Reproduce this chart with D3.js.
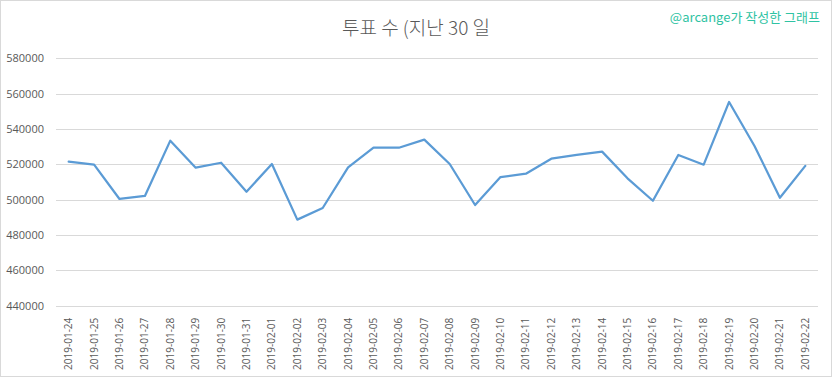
<!DOCTYPE html>
<html><head><meta charset="utf-8">
<script src="https://cdn.jsdelivr.net/npm/d3@7"></script>
<style>body{margin:0;background:#fff}svg{display:block}</style>
</head><body>
<svg id="c" width="832" height="379"></svg>
<script>
const dates = ["2019-01-24","2019-01-25","2019-01-26","2019-01-27","2019-01-28","2019-01-29","2019-01-30","2019-01-31","2019-02-01","2019-02-02","2019-02-03","2019-02-04","2019-02-05","2019-02-06","2019-02-07","2019-02-08","2019-02-09","2019-02-10","2019-02-11","2019-02-12","2019-02-13","2019-02-14","2019-02-15","2019-02-16","2019-02-17","2019-02-18","2019-02-19","2019-02-20","2019-02-21","2019-02-22"];
const votes = [521500,519800,500400,502100,533400,518100,520900,504500,520200,488700,495300,518300,529400,529400,534000,520200,497000,512800,514700,523200,525300,527200,512100,499400,525300,519800,555300,530400,501100,519100];
const yTicks = [440000,460000,480000,500000,520000,540000,560000,580000];
const title = "투표 수 (지난 30 일";
const credit = "@arcange가 작성한 그래프";

const svg = d3.select("#c");
const W = 832, H = 379;
const L = 56, R = 818, T = 58.3, B = 305.7;

svg.append("rect").attr("x",0.5).attr("y",0.5).attr("width",W-1).attr("height",H-3)
  .attr("fill","#fff").attr("stroke","#d9d9d9");

const x = d3.scaleBand().domain(dates).range([L,R]).padding(0);
const y = d3.scaleLinear().domain([440000,580000]).range([B,T]);

// gridlines
svg.append("g").selectAll("line").data(yTicks).join("line")
  .attr("x1",L).attr("x2",R).attr("y1",d=>Math.round(y(d))+0.5).attr("y2",d=>Math.round(y(d))+0.5)
  .attr("stroke","#d9d9d9").attr("stroke-width",1);

// y axis labels
const ya = svg.append("g").attr("transform",`translate(${L},0)`)
  .call(d3.axisLeft(y).tickValues(yTicks).tickSize(0).tickPadding(12).tickFormat(d3.format("d")));
ya.select(".domain").remove();
ya.selectAll("text").attr("fill","#595959").style("font-family","'Open Sans', sans-serif").style("font-size","11px");

// x axis
const xa = svg.append("g").attr("transform",`translate(0,${B})`)
  .call(d3.axisBottom(x).tickSize(0).tickPadding(0));
xa.select(".domain").remove();
xa.selectAll("text").attr("fill","#595959")
  .style("font-family","'Open Sans', sans-serif").style("font-size","10px")
  .attr("text-anchor","end").attr("transform","rotate(-90)")
  .attr("x",-12).attr("y",0).attr("dy","0.35em");

// line
svg.append("path").datum(votes)
  .attr("fill","none").attr("stroke","#5b9bd5").attr("stroke-width",2.25)
  .attr("stroke-linejoin","round").attr("stroke-linecap","round")
  .attr("d", d3.line().x((d,i)=>x(dates[i])+x.bandwidth()/2).y(d=>y(d)));

svg.append("text").attr("x",416).attr("y",35).attr("text-anchor","middle")
  .attr("fill","#595959").style("font-family","'Noto Sans CJK KR', sans-serif").style("font-size","19px")
  .style("font-weight","300")
  .text(title);

svg.append("text").attr("x",820).attr("y",22).attr("text-anchor","end")
  .attr("fill","#2fc3a3").style("font-family","'Noto Sans CJK KR', sans-serif").style("font-size","13px")
  .text(credit);
</script>
</body></html>
